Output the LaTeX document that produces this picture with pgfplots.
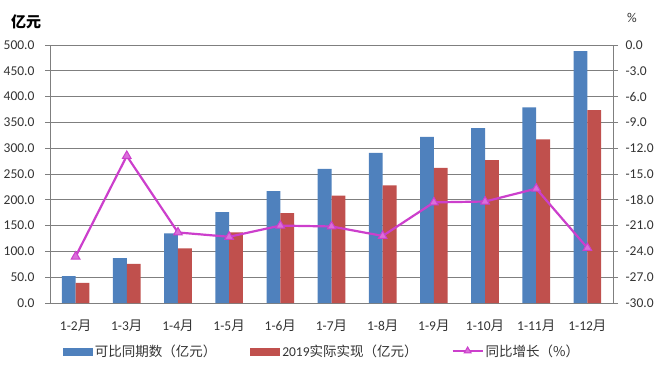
\documentclass[border=0pt]{standalone}
\usepackage{pgfplots}
\pgfplotsset{compat=1.18}
\usepackage{fontspec}
\setmainfont{Carlito}
\newfontfamily\cjk{Noto Sans CJK SC}
\definecolor{cblue}{HTML}{4F81BD}
\definecolor{cred}{HTML}{C0504D}
\definecolor{cmag}{HTML}{CC3FCC}
\definecolor{cmaglt}{HTML}{DA6FDA}
\definecolor{cgrid}{HTML}{7F7F7F}
\definecolor{ctext}{HTML}{333333}
\pgfplotsset{numfmt/.style={/pgf/number format/fixed, /pgf/number format/fixed zerofill, /pgf/number format/precision=1, /pgf/number format/assume math mode=true}}
\begin{document}
\begin{tikzpicture}
\useasboundingbox (0pt,0pt) rectangle (660pt,380pt);
\begin{axis}[
  at={(50pt,77pt)}, anchor=south west,
  width=563pt, height=258pt, scale only axis,
  xmin=-0.5, xmax=10.5, ymin=0, ymax=500,
  axis x line*=bottom, axis y line*=left,
  axis line style={cgrid, line width=0.8pt, -},
  ytick={0,50,...,500},
  yticklabel style={numfmt, font=\fontsize{13.5}{15}\selectfont, text=ctext, xshift=-7pt},
  ymajorgrids, grid style={cgrid, line width=0.8pt},
  tick align=outside,
  major tick length=5pt, minor tick length=5pt,
  tick style={cgrid, line width=0.8pt},
  xtick={0,...,10},
  xtick style={draw=none},
  minor xtick={-0.5,0.5,...,10.5},
  minor x tick style={cgrid, line width=0.8pt},
  xticklabels={1-2{\cjk 月},1-3{\cjk 月},1-4{\cjk 月},1-5{\cjk 月},1-6{\cjk 月},1-7{\cjk 月},1-8{\cjk 月},1-9{\cjk 月},1-10{\cjk 月},1-11{\cjk 月},1-12{\cjk 月}},
  xticklabel style={font=\fontsize{13.5}{15}\selectfont, text=ctext, yshift=-8pt},
  legend columns=3,
  legend style={at={(0.483,-0.186)}, anchor=center, draw=none, fill=none,
    font=\fontsize{13.5}{15}\selectfont, text=ctext,
    /tikz/every even column/.append style={column sep=32pt}},
  legend cell align=left,
]
\addplot[ybar, bar width=0.27, bar shift=-0.135, fill=cblue, draw=none,
  legend image code/.code={\fill[cblue] (0pt,-5pt) rectangle (30pt,3pt);}]
  coordinates {(0,52) (1,87) (2,135) (3,176) (4,217) (5,260) (6,291) (7,322) (8,339) (9,379) (10,488)};
\addlegendentry{\cjk 可比同期数（亿元）}
\addplot[ybar, bar width=0.27, bar shift=0.135, fill=cred, draw=none,
  legend image code/.code={\fill[cred] (0pt,-5pt) rectangle (30pt,3pt);}]
  coordinates {(0,39) (1,76) (2,106) (3,137) (4,174) (5,208) (6,228) (7,262) (8,277) (9,317) (10,374)};
\addlegendentry{2019{\cjk 实际实现（亿元）}}
\addlegendimage{legend image code/.code={\draw[cmag, line width=2pt, mark=triangle*, mark size=4pt, mark options={fill=cmaglt, draw=cmag, line width=1pt}, mark repeat=2, mark phase=2] plot coordinates {(0pt,0pt) (15pt,0pt) (30pt,0pt)};}}
\addlegendentry{\cjk 同比增长（\%）}
\end{axis}
\begin{axis}[
  at={(50pt,77pt)}, anchor=south west,
  width=563pt, height=258pt, scale only axis,
  xmin=-0.5, xmax=10.5, ymin=-30, ymax=0,
  axis x line=none, axis y line*=right,
  axis line style={cgrid, line width=0.8pt, -},
  ytick={-30,-27,...,0},
  yticklabel style={numfmt, font=\fontsize{13.5}{15}\selectfont, text=ctext, xshift=4pt},
  tick align=outside, major tick length=5pt,
  tick style={cgrid, line width=0.8pt},
]
\addplot[cmag, line width=2.2pt, mark=triangle*, mark size=5pt, mark options={fill=cmaglt, draw=cmag, line width=1pt}]
  coordinates {(0,-24.6) (1,-12.9) (2,-21.8) (3,-22.3) (4,-21.0) (5,-21.1) (6,-22.2) (7,-18.3) (8,-18.2) (9,-16.7) (10,-23.6)};
\end{axis}
\node[font=\cjk\bfseries\fontsize{15}{17}\selectfont, text=black] at (26pt,358pt) {亿元};
\node[font=\fontsize{13.5}{15}\selectfont, text=ctext] at (632pt,362pt) {\%};
\end{tikzpicture}
\end{document}
